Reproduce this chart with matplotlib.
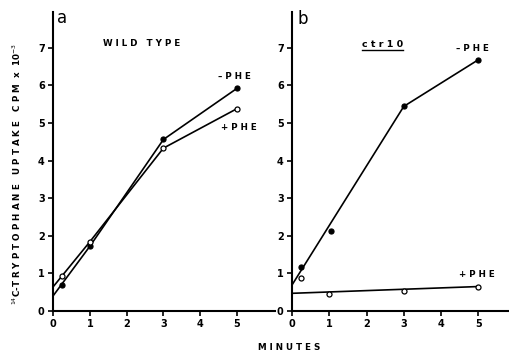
import matplotlib
matplotlib.use("Agg")
import matplotlib.pyplot as plt

# measured points (minutes, cpm x 10^-3)
MINUTES = [0.25, 1, 3, 5]
WT_MINUS = [0.70, 1.72, 4.56, 5.92]
WT_PLUS = [0.93, 1.84, 4.33, 5.38]
CTR_MINUS_MINUTES = [0.25, 1.05, 3, 5]
CTR_MINUS = [1.17, 2.14, 5.44, 6.68]
CTR_PLUS = [0.88, 0.46, 0.53, 0.64]

# hand-drawn lines through the points
WT_LINE_MINUTES = [0, 1, 3, 5]
WT_MINUS_LINE = [0.40, 1.72, 4.56, 5.92]
WT_PLUS_LINE = [0.64, 1.84, 4.33, 5.38]
CTR_MINUS_LINE_MINUTES = [0, 3, 5]
CTR_MINUS_LINE = [0.69, 5.44, 6.68]
CTR_PLUS_LINE_MINUTES = [0, 5]
CTR_PLUS_LINE = [0.47, 0.65]

X_TICKS = [0, 1, 2, 3, 4, 5]
Y_TICKS = [0, 1, 2, 3, 4, 5, 6, 7]

FONT = "DejaVu Sans"


def style_axes(ax, xmax):
    ax.set_xlim(0, xmax)
    ax.set_ylim(0, 7.95)
    for side in ["top", "right"]:
        ax.spines[side].set_visible(False)
    for side in ["left", "bottom"]:
        ax.spines[side].set_linewidth(1.5)
    ax.set_xticks(X_TICKS)
    ax.set_yticks(Y_TICKS)
    ax.tick_params(axis="both", direction="out", length=3.5, width=1.2,
                   labelsize=7, pad=2.5)
    for label in ax.get_xticklabels() + ax.get_yticklabels():
        label.set_fontweight("bold")


def draw_series(ax, line_x, line_y, pts_x, pts_y, filled):
    ax.plot(line_x, line_y, color="black", linewidth=1.2, zorder=2)
    ax.plot(pts_x, pts_y, linestyle="none", marker="o", markersize=3.6,
            markeredgewidth=0.9, markeredgecolor="black",
            markerfacecolor="black" if filled else "white", zorder=3)


fig = plt.figure(figsize=(5.1, 3.53), dpi=100)
ax_a = fig.add_axes([0.104, 0.119, 0.435, 0.847])
ax_b = fig.add_axes([0.5725, 0.119, 0.4275, 0.847])

style_axes(ax_a, 6.03)
style_axes(ax_b, 5.85)

draw_series(ax_a, WT_LINE_MINUTES, WT_MINUS_LINE, MINUTES, WT_MINUS, True)
draw_series(ax_a, WT_LINE_MINUTES, WT_PLUS_LINE, MINUTES, WT_PLUS, False)
draw_series(ax_b, CTR_MINUS_LINE_MINUTES, CTR_MINUS_LINE, CTR_MINUS_MINUTES, CTR_MINUS, True)
draw_series(ax_b, CTR_PLUS_LINE_MINUTES, CTR_PLUS_LINE, MINUTES, CTR_PLUS, False)

bold = dict(fontweight="bold", fontsize=6.3, ha="center", va="center", family=FONT)

ax_a.text(0.12, 7.8, "a", fontsize=12, ha="left", va="center")
ax_a.text(2.42, 7.12, "W I L D   T Y P E", **bold)
ax_a.text(4.93, 6.24, "– P H E", **bold)
ax_a.text(5.04, 4.89, "+ P H E", **bold)

ax_b.text(0.15, 7.77, "b", fontsize=12, ha="left", va="center")
ctr = ax_b.text(2.44, 7.08, "c t r 1 0", fontweight="bold", fontsize=6.8,
                ha="center", va="center", family=FONT)
ax_b.text(4.83, 6.98, "– P H E", **bold)
ax_b.text(4.97, 0.98, "+ P H E", **bold)

# underline under ctr10
fig.canvas.draw()
bb = ctr.get_window_extent().transformed(ax_b.transData.inverted())
ax_b.plot([bb.x0, bb.x1], [bb.y0 - 0.03, bb.y0 - 0.03], color="black", linewidth=1.0)

fig.text(17 / 510, 1 - 174 / 353,
         r"$^{14}$C-T R Y P T O P H A N E   U P T A K E   C P M  x  10$^{-3}$",
         rotation=90, ha="center", va="center", fontsize=6.3, fontweight="bold")
fig.text(289 / 510, 1 - 347 / 353, "M I N U T E S", ha="center", va="center",
         fontsize=6.3, fontweight="bold")

fig.savefig("out.png", dpi=100)
